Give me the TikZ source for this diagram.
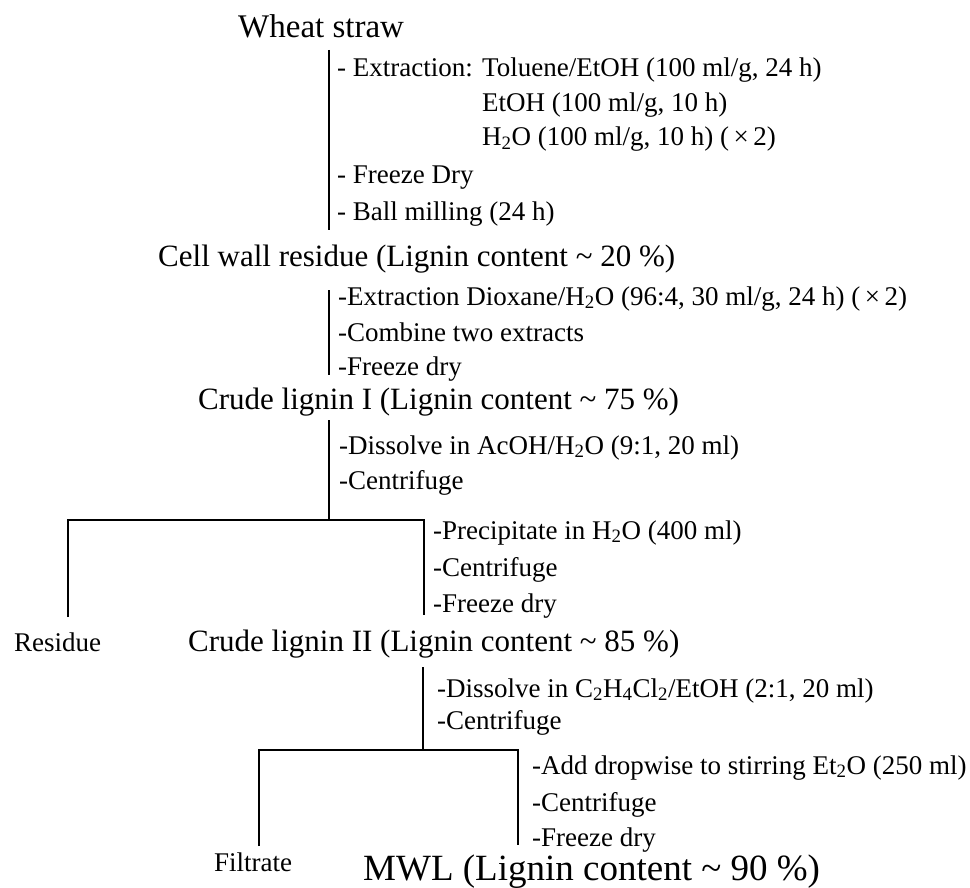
\documentclass[tikz,border=0pt]{standalone}
\usepackage{fontspec}
\setmainfont{Liberation Serif}
\newcommand{\Hsub}[1]{\textsubscript{#1}}
\begin{document}
\begin{tikzpicture}[x=1pt,y=-1pt,
  stepline/.style={anchor=base west, inner sep=0pt, font=\fontsize{27}{32}\selectfont},
  titletext/.style={anchor=base west, inner sep=0pt, font=\fontsize{31}{36}\selectfont},
  bigtitle/.style={anchor=base west, inner sep=0pt, font=\fontsize{33}{38}\selectfont},
  mwltitle/.style={anchor=base west, inner sep=0pt, font=\fontsize{37}{42}\selectfont},
  sidetext/.style={anchor=base west, inner sep=0pt, font=\fontsize{27}{32}\selectfont},
  conn/.style={line width=1.7pt}]
\useasboundingbox (0,0) rectangle (970,888);
% Block 1
\node[bigtitle] (ws) at (238,38) {Wheat straw};
\node[stepline] (s1a) at (337,77) {- Extraction:};
\node[stepline] (s1b) at (482,77) {Toluene/EtOH (100 ml/g, 24 h)};
\node[stepline] (s1c) at (482,112) {EtOH (100 ml/g, 10 h)};
\node[stepline] (s1d) at (482,146) {H\Hsub{2}O (100 ml/g, 10 h) (\,×\,2)};
\node[stepline] (s1e) at (337,184) {- Freeze Dry};
\node[stepline] (s1f) at (337,220) {- Ball milling (24 h)};
% Block 2
\node[titletext] (cw) at (158,266) {Cell wall residue (Lignin content \textasciitilde\ 20 \%)};
\node[stepline] (s2a) at (338,305) {-Extraction Dioxane/H\Hsub{2}O (96:4, 30 ml/g, 24 h) (\,×\,2)};
\node[stepline] (s2b) at (338,341) {-Combine two extracts};
\node[stepline] (s2c) at (338,375) {-Freeze dry};
% Block 3
\node[titletext] (cl1) at (198,409) {Crude lignin I (Lignin content \textasciitilde\ 75 \%)};
\node[stepline] (s3a) at (339,454) {-Dissolve in AcOH/H\Hsub{2}O (9:1, 20 ml)};
\node[stepline] (s3b) at (339,489) {-Centrifuge};
\node[stepline] (s4a) at (433,539) {-Precipitate in H\Hsub{2}O (400 ml)};
\node[stepline] (s4b) at (433,576) {-Centrifuge};
\node[stepline] (s4c) at (433,612) {-Freeze dry};
\node[sidetext] (res) at (14,651) {Residue};
% Block 4
\node[titletext] (cl2) at (188,651) {Crude lignin II (Lignin content \textasciitilde\ 85 \%)};
\node[stepline] (s5a) at (437,697) {-Dissolve in C\Hsub{2}H\Hsub{4}Cl\Hsub{2}/EtOH (2:1, 20 ml)};
\node[stepline] (s5b) at (437,729) {-Centrifuge};
\node[stepline] (s6a) at (532,774) {-Add dropwise to stirring Et\Hsub{2}O (250 ml)};
\node[stepline] (s6b) at (532,811) {-Centrifuge};
\node[stepline] (s6c) at (532,846) {-Freeze dry};
\node[sidetext] (fil) at (214,871) {Filtrate};
\node[mwltitle] (mwl) at (363,880) {MWL (Lignin content \textasciitilde\ 90 \%)};
% connector end points
\coordinate (a1) at (329,50);  \coordinate (a2) at (329,230);
\coordinate (b1) at (329,290); \coordinate (b2) at (329,375);
\coordinate (c1) at (329,420); \coordinate (c2) at (329,520);
\coordinate (d1) at (68,617);  \coordinate (d2) at (68,520);
\coordinate (d3) at (424,520); \coordinate (d4) at (424,615);
\coordinate (e1) at (423,667); \coordinate (e2) at (423,750);
\coordinate (f1) at (259,846); \coordinate (f2) at (259,750);
\coordinate (f3) at (518,750); \coordinate (f4) at (518,845);
\draw[conn] (a1) -- (a2);
\draw[conn] (b1) -- (b2);
\draw[conn] (c1) -- (c2);
\draw[conn] (d1) -- (d2) -- (d3) -- (d4);
\draw[conn] (e1) -- (e2);
\draw[conn] (f1) -- (f2) -- (f3) -- (f4);
\end{tikzpicture}
\end{document}
